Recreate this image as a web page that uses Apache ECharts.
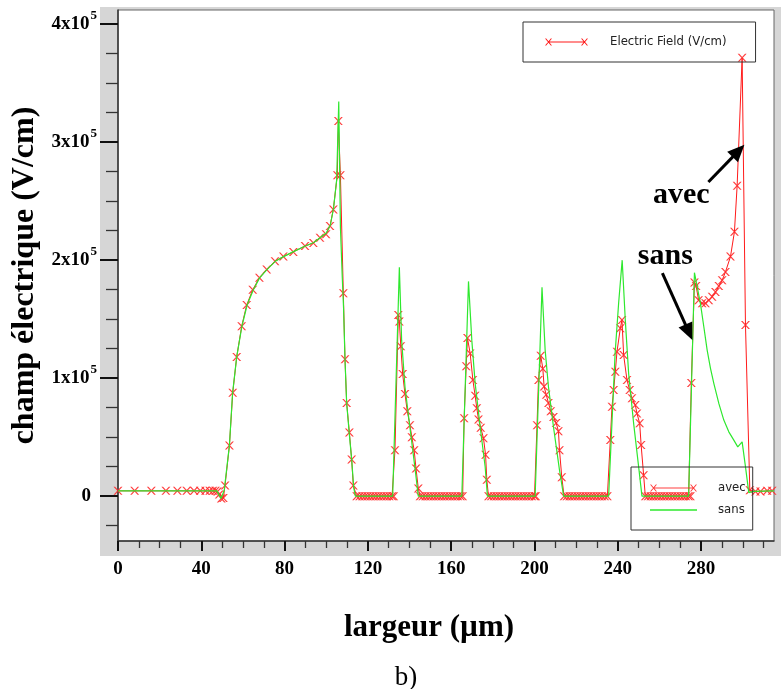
<!DOCTYPE html>
<html><head><meta charset="utf-8">
<script src="https://cdn.jsdelivr.net/npm/echarts@6/dist/echarts.min.js"></script>
<style>html,body{margin:0;padding:0;background:#fff}#c{width:781px;height:689px}</style>
</head><body><div id="c"></div>
<script>
// ---------- data ----------
const xLabels = [0, 40, 80, 120, 160, 200, 240, 280];
const xMinorTicks = [10,20,30,50,60,70,90,100,110,130,140,150,170,180,190,210,220,230,250,260,270,290,300,310];
const yLabels = [0, 100000, 200000, 300000, 400000];
const yMinorTicks = [-25000,25000,50000,75000,125000,150000,175000,225000,250000,275000,325000,350000,375000];
const seriesNames = ['avec', 'sans'];
const legendTitle = 'Electric Field (V/cm)';
const xTitle = 'largeur (µm)';
const yTitle = 'champ électrique (V/cm)';
const caption = 'b)';

// avec : [x (µm), E (V/cm)]
const avecPoints = [
  [0,4500],[8,4500],[16,4500],[23,4500],[28.5,4500],[33,4500],[36.5,4500],[39.5,4500],[42,4500],[44,4500],[45.6,4500],[46.8,4500],
  [47.8,4000],[48.6,1500],[49.6,-2000],[50.6,-1500],[51.4,9000],[53.5,43000],[55.1,87700],[57,118000],[59.4,144000],[61.8,162000],
  [64.7,175000],[67.9,185000],[71.4,192000],[75.4,199000],[79.4,203000],[84.2,207000],[89.8,212000],[93.8,214500],[97,219000],
  [99.9,222000],[101.8,229000],[103.4,243000],[105.3,272000],[105.8,318000],[106.8,272000],[108.2,172000],[109,116000],[109.8,79000],
  [111.1,54000],[112.2,31000],[113,9000],[114.6,0],
  [116,0],[117.3,0],[118.6,0],[119.9,0],[121.2,0],[122.5,0],[123.8,0],[125.1,0],[126.4,0],[127.7,0],[129,0],[130.3,0],[131.6,0],[132.4,0],
  [133,39000],[134.6,153500],[135.1,148000],[135.8,127000],[136.7,103500],[137.8,86600],[138.9,72000],[140.2,60000],[141.1,50000],
  [142.2,39000],[143.1,23500],[144.2,6500],[145,0],
  [146.3,0],[147.6,0],[148.9,0],[150.2,0],[151.5,0],[152.8,0],[154.1,0],[155.4,0],[156.7,0],[158,0],[159.3,0],[160.6,0],[161.9,0],[163.2,0],[164.5,0],[165.5,0],
  [166.2,66000],[167.2,110000],[167.8,134000],[169.1,121000],[170.4,98500],[171.5,85000],[172.3,74500],[173.1,65000],[174.2,58000],
  [175.5,49000],[176.5,35000],[177.1,14000],[177.9,0],
  [179.2,0],[180.5,0],[181.8,0],[183.1,0],[184.4,0],[185.7,0],[187,0],[188.3,0],[189.6,0],[190.9,0],[192.2,0],[193.5,0],[194.8,0],[196.1,0],[197.4,0],[198.7,0],[200,0],[200.6,0],
  [201.2,60000],[201.9,98500],[203,119000],[204,108000],[204.6,93000],[205.6,86000],[206.7,79000],[207.8,72000],[209.1,67000],
  [210.4,62000],[211.5,55000],[212,39000],[213.1,16000],[214.2,0],
  [215.5,0],[216.8,0],[218.1,0],[219.4,0],[220.7,0],[222,0],[223.3,0],[224.6,0],[225.9,0],[227.2,0],[228.5,0],[229.8,0],[231.1,0],[232.4,0],[233.7,0],[235,0],
  [236.4,47500],[237.2,75700],[238,89900],[238.8,105400],[239.6,122400],[241.2,142200],[242,149300],[242.8,119600],[244.4,98400],
  [245.7,89900],[246.8,82900],[248.4,77200],[249.2,70100],[250.5,61700],[251.2,43300],[252.4,17800],[253.2,0],
  [254.5,0],[255.8,0],[257.1,0],[258.4,0],[259.7,0],[261,0],[262.3,0],[263.6,0],[264.9,0],[266.2,0],[267.5,0],[268.8,0],[270.1,0],[271.4,0],[272.7,0],[274,0],[274.9,0],
  [275.3,96000],[276.8,181000],[277.6,178000],[278.8,166000],[280.5,163500],[282.1,163500],[283.7,166000],[285.3,169000],[286.9,173000],
  [288.5,178000],[290.1,183000],[291.7,190000],[294.1,203000],[296,224000],[297.3,263000],[299.7,371500],[301.3,145000],[303.4,5000],
  [306.1,4000],[308.5,4000],[311.7,4500],[314.1,4500]
];

// sans : [x (µm), E (V/cm)]
const sansPoints = [
  [0,4500],[47.5,4500],[49.5,-2000],[51,5000],[53.5,43000],[55,87000],[57,118000],[59.5,144000],[62,162000],[65,175000],[68,185000],
  [71.5,192000],[75.5,199000],[79.5,203000],[84,207000],[90,212000],[94,215000],[97,219000],[100,223000],[102,230000],[103.5,244000],
  [105,268000],[106,334500],[106.8,228000],[107.7,185000],[108.3,160000],[109,116000],[109.8,79000],[111,54000],[112.2,31000],[113.2,7000],[114,0],
  [131.9,0],[135.1,194000],[136.2,132000],[137.8,92700],[140.2,58000],[142.6,24000],[144.2,0],
  [165.1,0],[168.3,182000],[169.9,132000],[171.5,95600],[173.9,58800],[176.3,24900],[177.4,0],
  [200.3,0],[203.6,177000],[205.1,124000],[206.7,92700],[209.1,58800],[212,22000],[214,0],
  [235.6,0],[238.7,121000],[240.4,163700],[242.1,200000],[243.6,149000],[245.2,104000],[247.6,61700],[250,24900],[251.6,0],
  [274,0],[276.8,189400],[278.1,177500],[279.7,163000],[281.3,143600],[282.9,123800],[284.5,108300],[286.1,95600],[288.5,78600],
  [290.9,64500],[293.3,54500],[295.7,47500],[297.6,41800],[299.7,46000],[301.3,24900],[302.9,3000],[305,4000],[315,4500]
];

// annotation anchors (data coordinates)
const annotationTexts = ['avec', 'sans'];
const annotationAt = [[270.5, 255000], [262.8, 203000]];
const arrowFrom = [[283.5, 266300], [261.4, 189100]];
const arrowTo = [[300.8, 297700], [275.8, 132300]];

// ---------- styles ----------
const SERIF = '"Liberation Serif", "Times New Roman", serif';
const NARROW = '"Liberation Sans Narrow", "Arial Narrow", "DejaVu Sans Condensed", "Liberation Sans", sans-serif';
const RED = '#ff1a1a';
const GREEN = '#2ee82e';
const X_MIN = 0, X_MAX = 315, Y_MIN = -38000, Y_MAX = 412000;

const markerPath = 'path://M0,0L1.6,0L9,8L7.4,8Z M7.4,0L9,0L1.6,8L0,8Z';
const iconTop = 'path://M3.5,3.5L39.5,3.5L39.5,4.5L3.5,4.5Z M0,0.5L1.2,0.5L7,7.5L5.8,7.5Z M5.8,0.5L7,0.5L1.2,7.5L0,7.5Z M36,0.5L37.2,0.5L43,7.5L41.8,7.5Z M41.8,0.5L43,0.5L37.2,7.5L36,7.5Z';
const iconAvec = 'path://M3.5,3.5L43.5,3.5L43.5,4.5L3.5,4.5Z M0,0.5L1.2,0.5L7,7.5L5.8,7.5Z M5.8,0.5L7,0.5L1.2,7.5L0,7.5Z M40,0.5L41.2,0.5L47,7.5L45.8,7.5Z M45.8,0.5L47,0.5L41.2,7.5L40,7.5Z';
const iconSans = 'path://M0,0L47,0L47,1.3L0,1.3Z';

const chart = echarts.init(document.getElementById('c'), null, {renderer: 'canvas'});

const baseGraphic = [
  {id: 'bg', type: 'rect', z: -10, silent: true, shape: {x: 100, y: 7, width: 681, height: 549}, style: {fill: '#d6d6d6'}},
  {id: 'cap', type: 'text', silent: true, style: {text: caption, x: 406, y: 678, align: 'center', verticalAlign: 'middle',
    fontSize: 27, fontFamily: SERIF, fill: '#000'}}
];

const option = {
  animation: false,
  backgroundColor: '#fff',
  grid: {left: 118, right: 7, top: 10, bottom: 148, show: true, backgroundColor: '#fff', borderColor: '#666', borderWidth: 1, containLabel: false},
  legend: [
    {
      data: [{name: legendTitle, icon: iconTop}], selectedMode: false,
      left: 523, top: 22, orient: 'horizontal', itemWidth: 43, itemHeight: 7,
      padding: [12, 29, 12, 22], borderColor: '#333', borderWidth: 1,
      textStyle: {fontFamily: NARROW, fontSize: 13, color: '#222', padding: [0, 0, 0, 17], lineHeight: 16}
    },
    {
      data: [{name: seriesNames[0], icon: iconAvec}, {name: seriesNames[1], icon: iconSans}], selectedMode: false,
      left: 631, top: 467, orient: 'vertical', itemWidth: 47, itemHeight: 7, itemGap: 6,
      padding: [13, 7, 12, 19], borderColor: '#333', borderWidth: 1,
      textStyle: {fontFamily: NARROW, fontSize: 13, color: '#222', padding: [0, 0, 0, 16], lineHeight: 16}
    }
  ],
  xAxis: [
    {
      type: 'value', min: X_MIN, max: X_MAX, position: 'bottom',
      name: xTitle, nameLocation: 'middle', nameGap: 71,
      nameTextStyle: {fontFamily: SERIF, fontWeight: 'bold', fontSize: 31, color: '#000', padding: [0, 34, 0, 0]},
      axisLine: {show: true, onZero: false, lineStyle: {color: '#333', width: 1.5}},
      axisTick: {show: true, customValues: xLabels, length: 10, lineStyle: {color: '#111', width: 2}},
      axisLabel: {show: true, customValues: xLabels, margin: 19, fontFamily: SERIF, fontWeight: 'bold', fontSize: 19, color: '#000'},
      splitLine: {show: false}
    },
    {
      type: 'value', min: X_MIN, max: X_MAX, position: 'bottom',
      axisLine: {show: false, onZero: false},
      axisTick: {show: true, customValues: xMinorTicks, length: 7, lineStyle: {color: '#333', width: 1.3}},
      axisLabel: {show: false}, splitLine: {show: false}
    }
  ],
  yAxis: [
    {
      type: 'value', min: Y_MIN, max: Y_MAX, position: 'left',
      name: yTitle, nameLocation: 'middle', nameGap: 70, nameRotate: 90,
      nameTextStyle: {fontFamily: SERIF, fontWeight: 'bold', fontSize: 32, color: '#000'},
      axisLine: {show: true, onZero: false, lineStyle: {color: '#333', width: 1.5}},
      axisTick: {show: true, customValues: yLabels, length: 18, lineStyle: {color: '#111', width: 2}},
      axisLabel: {
        show: true, customValues: yLabels, margin: 21,
        formatter: function (v) {
          if (v === 0) return '{z|0}';
          return '{n|' + Math.round(v / 100000) + 'x10}{s|5}';
        },
        rich: {
          z: {fontFamily: SERIF, fontWeight: 'bold', fontSize: 19, color: '#000', padding: [0, 6, 0, 0]},
          n: {fontFamily: SERIF, fontWeight: 'bold', fontSize: 19, color: '#000'},
          s: {fontFamily: SERIF, fontWeight: 'bold', fontSize: 13, color: '#000', padding: [0, 0, 18, 1]}
        }
      },
      splitLine: {show: false}
    },
    {
      type: 'value', min: Y_MIN, max: Y_MAX, position: 'left',
      axisLine: {show: false, onZero: false},
      axisTick: {show: true, customValues: yMinorTicks, length: 12, lineStyle: {color: '#333', width: 1.3}},
      axisLabel: {show: false}, splitLine: {show: false}
    }
  ],
  series: [
    {
      name: legendTitle, type: 'line', data: [], color: RED, symbol: markerPath, xAxisIndex: 0, yAxisIndex: 0
    },
    {
      name: seriesNames[0], type: 'line', xAxisIndex: 0, yAxisIndex: 0, data: avecPoints,
      color: RED, symbol: markerPath, symbolSize: [9, 8], showSymbol: true,
      itemStyle: {color: '#ff2a2a', opacity: 0.9},
      lineStyle: {color: RED, width: 1}, z: 2
    },
    {
      name: seriesNames[1], type: 'line', xAxisIndex: 0, yAxisIndex: 0, data: sansPoints,
      color: GREEN, symbol: 'none', lineStyle: {color: GREEN, width: 1.2}, z: 3
    }
  ],
  graphic: {elements: baseGraphic}
};
chart.setOption(option);

// annotations: arrows and labels positioned from data coordinates
const extra = [];
for (let i = 0; i < arrowFrom.length; i++) {
  const p0 = chart.convertToPixel({gridIndex: 0}, arrowFrom[i]);
  const p1 = chart.convertToPixel({gridIndex: 0}, arrowTo[i]);
  const dx = p1[0] - p0[0], dy = p1[1] - p0[1];
  const len = Math.sqrt(dx * dx + dy * dy);
  const ux = dx / len, uy = dy / len;
  const L = 17, W = 7.5;
  const bx = p1[0] - ux * L, by = p1[1] - uy * L;
  extra.push({id: 'al' + i, type: 'line', silent: true, z: 20,
    shape: {x1: p0[0], y1: p0[1], x2: bx + ux * 2, y2: by + uy * 2}, style: {stroke: '#000', lineWidth: 3}});
  extra.push({id: 'ah' + i, type: 'polygon', silent: true, z: 20,
    shape: {points: [[p1[0], p1[1]], [bx - uy * W, by + ux * W], [bx + uy * W, by - ux * W]]}, style: {fill: '#000'}});
}
for (let i = 0; i < annotationTexts.length; i++) {
  const p = chart.convertToPixel({gridIndex: 0}, annotationAt[i]);
  extra.push({id: 'at' + i, type: 'text', silent: true, z: 20,
    style: {text: annotationTexts[i], x: p[0], y: p[1], align: 'center', verticalAlign: 'middle',
      fontFamily: SERIF, fontWeight: 'bold', fontSize: 30, fill: '#000'}});
}
chart.setOption({graphic: {elements: baseGraphic.concat(extra)}});
</script>
</body></html>
